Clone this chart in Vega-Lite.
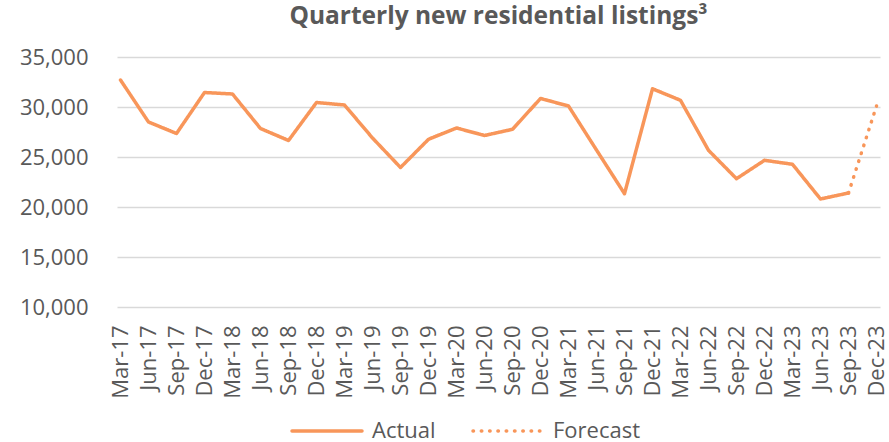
{
  "$schema": "https://vega.github.io/schema/vega-lite/v6.json",
  "width": 763,
  "height": 250,
  "autosize": "none",
  "padding": {"left": 117, "top": 57, "right": 9, "bottom": 135},
  "background": "white",
  "config": {
    "view": {"stroke": null},
    "font": "Open Sans",
    "axis": {"labelFont": "Open Sans", "labelColor": "#595959", "labelFontSize": 22, "domain": false, "ticks": false},
    "legend": {"labelFont": "Open Sans", "labelColor": "#595959", "labelFontSize": 22}
  },
  "title": {
    "text": "Quarterly new residential listings³",
    "font": "Open Sans",
    "fontSize": 24.5,
    "fontWeight": "bold",
    "color": "#595959",
    "anchor": "middle",
    "offset": 17
  },
  "data": {
    "values": [
      {"q": "Mar-17", "v": 32700, "s": "Actual"},
      {"q": "Jun-17", "v": 28500, "s": "Actual"},
      {"q": "Sep-17", "v": 27350, "s": "Actual"},
      {"q": "Dec-17", "v": 31450, "s": "Actual"},
      {"q": "Mar-18", "v": 31300, "s": "Actual"},
      {"q": "Jun-18", "v": 27850, "s": "Actual"},
      {"q": "Sep-18", "v": 26650, "s": "Actual"},
      {"q": "Dec-18", "v": 30450, "s": "Actual"},
      {"q": "Mar-19", "v": 30200, "s": "Actual"},
      {"q": "Jun-19", "v": 26900, "s": "Actual"},
      {"q": "Sep-19", "v": 23950, "s": "Actual"},
      {"q": "Dec-19", "v": 26770, "s": "Actual"},
      {"q": "Mar-20", "v": 27900, "s": "Actual"},
      {"q": "Jun-20", "v": 27150, "s": "Actual"},
      {"q": "Sep-20", "v": 27770, "s": "Actual"},
      {"q": "Dec-20", "v": 30850, "s": "Actual"},
      {"q": "Mar-21", "v": 30100, "s": "Actual"},
      {"q": "Jun-21", "v": 25700, "s": "Actual"},
      {"q": "Sep-21", "v": 21330, "s": "Actual"},
      {"q": "Dec-21", "v": 31820, "s": "Actual"},
      {"q": "Mar-22", "v": 30670, "s": "Actual"},
      {"q": "Jun-22", "v": 25670, "s": "Actual"},
      {"q": "Sep-22", "v": 22830, "s": "Actual"},
      {"q": "Dec-22", "v": 24670, "s": "Actual"},
      {"q": "Mar-23", "v": 24270, "s": "Actual"},
      {"q": "Jun-23", "v": 20800, "s": "Actual"},
      {"q": "Sep-23", "v": 21400, "s": "Actual"},
      {"q": "Sep-23", "v": 21400, "s": "Forecast"},
      {"q": "Dec-23", "v": 30100, "s": "Forecast"}
    ]
  },
  "mark": {"type": "line", "color": "#F8965A", "strokeWidth": 3.5, "strokeCap": "round", "strokeJoin": "round"},
  "encoding": {
    "x": {
      "field": "q", "type": "ordinal", "sort": null,
      "scale": {"type": "point", "padding": 0.125},
      "axis": {"title": null, "labelAngle": -90, "labelPadding": 18, "grid": false}
    },
    "y": {
      "field": "v", "type": "quantitative",
      "scale": {"domain": [10000, 35000], "nice": false},
      "axis": {"title": null, "values": [10000, 15000, 20000, 25000, 30000, 35000], "format": ",.0f", "labelPadding": 29, "gridColor": "#D9D9D9", "gridWidth": 1.5}
    },
    "strokeDash": {
      "field": "s", "type": "nominal",
      "scale": {"domain": ["Actual", "Forecast"], "range": [[1, 0], [0.5, 7.8]]},
      "legend": {
        "title": null, "orient": "none", "direction": "horizontal",
        "legendX": 173, "legendY": 337,
        "symbolType": "stroke", "symbolSize": 4900, "symbolStrokeWidth": 3.5,
        "symbolStrokeColor": "#F8965A", "labelOffset": 8, "columnPadding": 30,
        "encode": {"symbols": {"update": {"strokeCap": {"value": "round"}}}}
      }
    }
  }
}
